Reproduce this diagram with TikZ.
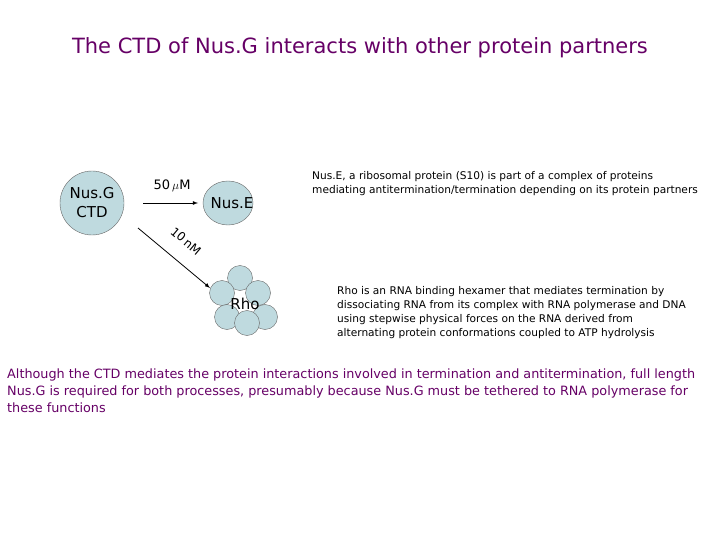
\documentclass[tikz,border=0pt]{standalone}
\usepackage{fontspec}
\setmainfont{DejaVu Sans}
\usetikzlibrary{shapes.geometric}
\begin{document}
\begin{tikzpicture}[x=1pt,y=-1pt,
  txt/.style={font=\fontsize{10.6}{14}\selectfont,text=black,align=left,anchor=north west,inner sep=0pt}]
\definecolor{ball}{HTML}{BFDADF}
\definecolor{ink}{HTML}{660066}
\useasboundingbox (0,0) rectangle (720,540);
\node (title) at (360,48) {\fontsize{21}{24}\selectfont\color{ink}The CTD of Nus.G interacts with other protein partners};
\node[draw=black!60,fill=ball,circle,minimum size=64pt,inner sep=0pt,align=center,font=\fontsize{15}{19}\selectfont] (g) at (92,203) {Nus.G\\CTD};
\node[draw=black!60,fill=ball,ellipse,minimum width=50pt,minimum height=44pt,inner sep=0pt] (e) at (228,203) {};
\node[font=\fontsize{15}{18}\selectfont] (et) at (232,203) {Nus.E};
\foreach \n/\x/\y in {r1/240/278,r2/258/293,r3/222/293,r4/227/317,r5/265/317,r6/247/323}
  \node[draw=black!60,fill=ball,circle,minimum size=25pt,inner sep=0pt] (\n) at (\x,\y) {};
\node[font=\fontsize{15}{18}\selectfont] (rt) at (245,304) {Rho};
\coordinate (a1) at (143,203); \coordinate (a2) at (198,203);
\coordinate (b1) at (138,228); \coordinate (b2) at (210,288);
\draw[-latex,thick] (a1) -- (a2);
\draw[-latex,thick] (b1) -- (b2);
\node[font=\fontsize{13}{15}\selectfont] (l1) at (172,186) {50\,$\mu$M};
\node[font=\fontsize{12}{14}\selectfont,rotate=-40] (l2) at (186,241) {10\,nM};
\node[txt] (t1) at (312,171) {Nus.E, a ribosomal protein (S10) is part of a complex of proteins\\mediating antitermination/termination depending on its protein partners};
\node[txt] (t2) at (337,286) {Rho is an RNA binding hexamer that mediates termination by\\dissociating RNA from its complex with RNA polymerase and DNA\\using stepwise physical forces on the RNA derived from\\alternating protein conformations coupled to ATP hydrolysis};
\node[txt,font=\fontsize{12.8}{17}\selectfont,text=ink] (t3) at (7,369) {Although the CTD mediates the protein interactions involved in termination and antitermination, full length\\Nus.G is required for both processes, presumably because Nus.G must be tethered to RNA polymerase for\\these functions};
\end{tikzpicture}
\end{document}
